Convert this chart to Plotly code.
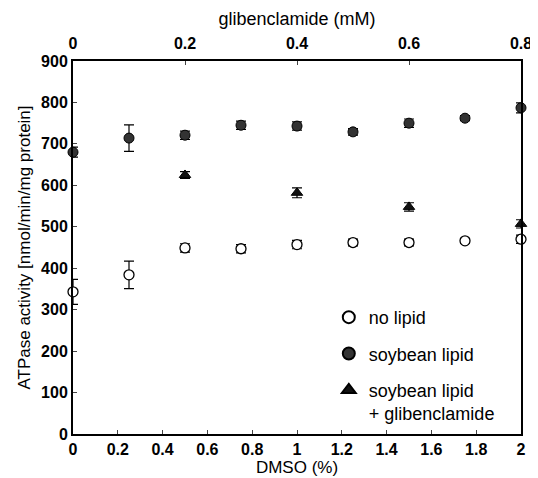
import plotly.graph_objects as go

# DMSO (%) on the bottom axis
dmso = [0, 0.25, 0.5, 0.75, 1.0, 1.25, 1.5, 1.75, 2.0]

# no lipid (open circles)
no_lipid = [343, 384, 449, 447, 457, 462, 462, 466, 470]
no_lipid_err = [30, 33, 10, 10, 10, 8, 8, 6, 10]

# soybean lipid (filled circles)
soy = [680, 714, 721, 745, 743, 729, 750, 762, 787]
soy_err = [12, 32, 10, 10, 10, 8, 10, 6, 12]

# soybean lipid + glibenclamide (triangles), on the top axis
glib = [0.2, 0.4, 0.6, 0.8]
soy_glib = [625, 582, 548, 507]
soy_glib_err = [8, 12, 10, 10]

x_ticks = [0, 0.2, 0.4, 0.6, 0.8, 1, 1.2, 1.4, 1.6, 1.8, 2]
x_labels = ["0", "0.2", "0.4", "0.6", "0.8", "1", "1.2", "1.4", "1.6", "1.8", "2"]
glib_ticks = [0, 0.2, 0.4, 0.6, 0.8]
glib_labels = ["0", "0.2", "0.4", "0.6", "0.8"]

font = "Liberation Sans, Arial, sans-serif"
err_style = dict(type="data", thickness=1.2, width=5, color="black")

fig = go.Figure()

fig.add_trace(
    go.Scatter(
        x=dmso,
        y=no_lipid,
        mode="markers",
        name="no lipid",
        legendgroup="a",
        error_y=dict(array=no_lipid_err, **err_style),
        marker=dict(symbol="circle", size=10, color="white", line=dict(color="black", width=1.3)),
        cliponaxis=False,
    )
)

fig.add_trace(
    go.Scatter(
        x=dmso,
        y=soy,
        mode="markers",
        name="soybean lipid",
        legendgroup="b",
        error_y=dict(array=soy_err, **err_style),
        marker=dict(symbol="circle", size=10, color="#333333", line=dict(color="black", width=1)),
        cliponaxis=False,
    )
)

fig.add_trace(
    go.Scatter(
        x=glib,
        y=soy_glib,
        xaxis="x2",
        mode="markers",
        name="soybean lipid<br>+ glibenclamide",
        legendgroup="c",
        error_y=dict(array=soy_glib_err, **err_style),
        marker=dict(symbol="triangle-up", size=10, color="#111111", line=dict(color="black", width=1)),
        cliponaxis=False,
    )
)

axis_common = dict(
    ticks="inside",
    ticklen=4,
    tickwidth=1,
    showline=True,
    linecolor="black",
    linewidth=2,
    showgrid=False,
    zeroline=False,
    automargin=False,
    tickfont=dict(size=16, weight="bold"),
)

# the page body adds 8px at top/left, so the figure is 8px smaller
fig.update_layout(
    width=530,
    height=470,
    plot_bgcolor="white",
    paper_bgcolor="white",
    font=dict(family=font, size=16, color="black"),
    margin=dict(l=65, r=17, t=53, b=44),
    showlegend=True,
    legend=dict(
        x=0.571,
        y=0.362,
        xanchor="left",
        yanchor="top",
        valign="top",
        bgcolor="rgba(0,0,0,0)",
        font=dict(size=18),
        itemsizing="constant",
        tracegroupgap=10,
        itemwidth=30,
    ),
    xaxis=dict(
        range=[0, 2],
        tickvals=x_ticks,
        ticktext=x_labels,
        title=dict(text="DMSO (%)", font=dict(size=17), standoff=2),
        **axis_common,
    ),
    xaxis2=dict(
        range=[0, 0.8],
        overlaying="x",
        side="top",
        anchor="y",
        tickvals=glib_ticks,
        ticktext=glib_labels,
        ticklabelstandoff=4,
        title=dict(text="glibenclamide (mM)", font=dict(size=18), standoff=4),
        **axis_common,
    ),
    yaxis=dict(
        range=[0, 900],
        tickvals=[0, 100, 200, 300, 400, 500, 600, 700, 800, 900],
        mirror=True,
        title=dict(text="ATPase activity [nmol/min/mg protein]", font=dict(size=17), standoff=6),
        **axis_common,
    ),
)

fig.write_html("out.html")
